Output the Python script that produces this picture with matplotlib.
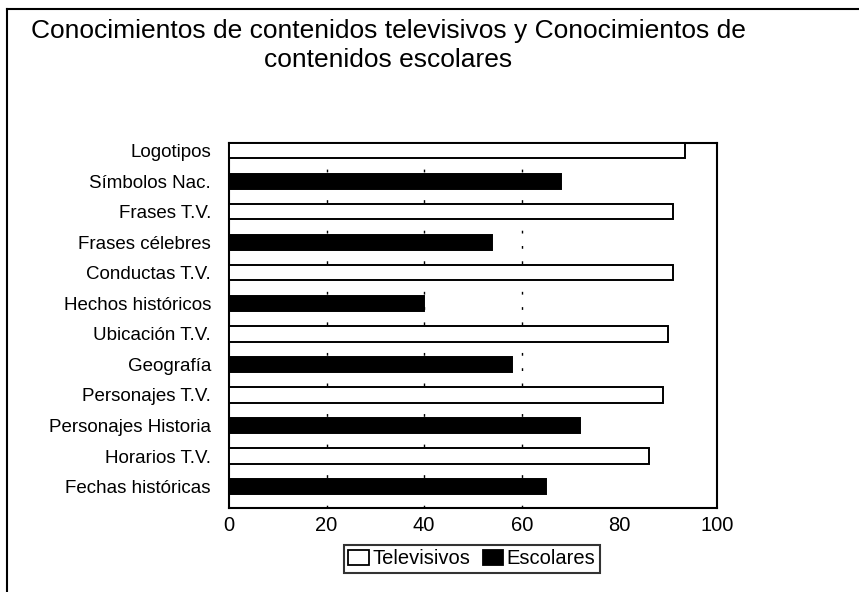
import matplotlib
matplotlib.use("Agg")
import matplotlib.pyplot as plt
from matplotlib.lines import Line2D
from matplotlib.patches import Patch

categories = ["Fechas históricas", "Horarios T.V.", "Personajes Historia", "Personajes T.V.",
              "Geografía", "Ubicación T.V.", "Hechos históricos", "Conductas T.V.",
              "Frases célebres", "Frases T.V.", "Símbolos Nac.", "Logotipos"]
values = [65, 86, 72, 89, 58, 90, 40, 91, 54, 91, 68, 93.5]
series = ["Escolares", "Televisivos", "Escolares", "Televisivos", "Escolares", "Televisivos",
          "Escolares", "Televisivos", "Escolares", "Televisivos", "Escolares", "Televisivos"]
xticks = [0, 20, 40, 60, 80, 100]
title_lines = ["Conocimientos de contenidos televisivos y Conocimientos de",
               "contenidos escolares"]
legend_labels = ["Televisivos", "Escolares"]

plt.rcParams['font.family'] = ['Liberation Sans', 'DejaVu Sans']

fig = plt.figure(figsize=(8.59, 5.92), dpi=100)
ax = fig.add_axes([0.2666, 0.1419, 0.568, 0.6166])

colors = {"Televisivos": "white", "Escolares": "black"}
ypos = list(range(len(categories)))
for y, v, s in zip(ypos, values, series):
    ax.barh(y, v, height=0.5, color=colors[s], edgecolor="black", linewidth=1.4, zorder=3)

ax.set_xlim(0, 100)
ax.set_ylim(-0.7, 11.25)
ax.set_yticks(ypos)
ax.set_yticklabels(categories, fontsize=13.5)
ax.set_xticks(xticks)
ax.set_xticklabels([str(t) for t in xticks], fontsize=14.5)
ax.tick_params(axis='y', length=0, pad=13)
ax.tick_params(axis='x', length=0, pad=6)
for gx in [20, 40, 60]:
    ax.axvline(gx, color="black", linewidth=1.0, linestyle=(0, (2, 9)), zorder=1)
for sp in ax.spines.values():
    sp.set_linewidth(1.5)
    sp.set_color("black")

handles = [Patch(facecolor="white", edgecolor="black", linewidth=1.3),
           Patch(facecolor="black", edgecolor="black", linewidth=1.3)]
leg = fig.legend(handles, legend_labels, loc="center", bbox_to_anchor=(472/859, 1-559/592),
                 ncol=2, frameon=True, fancybox=False, edgecolor="black",
                 prop={'size': 14.5},
                 handlelength=1.0, handleheight=0.8, handletextpad=0.2, columnspacing=0.6,
                 borderpad=0.2, borderaxespad=0)
leg.get_frame().set_linewidth(1.5)

fig.text(388/859, 1-38/592, title_lines[0], ha="center", va="baseline", fontsize=19)
fig.text(388/859, 1-67/592, title_lines[1], ha="center", va="baseline", fontsize=19)

fig.add_artist(Line2D([7/859, 7/859], [0, 1-9/592], transform=fig.transFigure, color="black", linewidth=1.5))
fig.add_artist(Line2D([7/859, 1], [1-9/592, 1-9/592], transform=fig.transFigure, color="black", linewidth=1.5))

fig.savefig("out.png", dpi=100)
